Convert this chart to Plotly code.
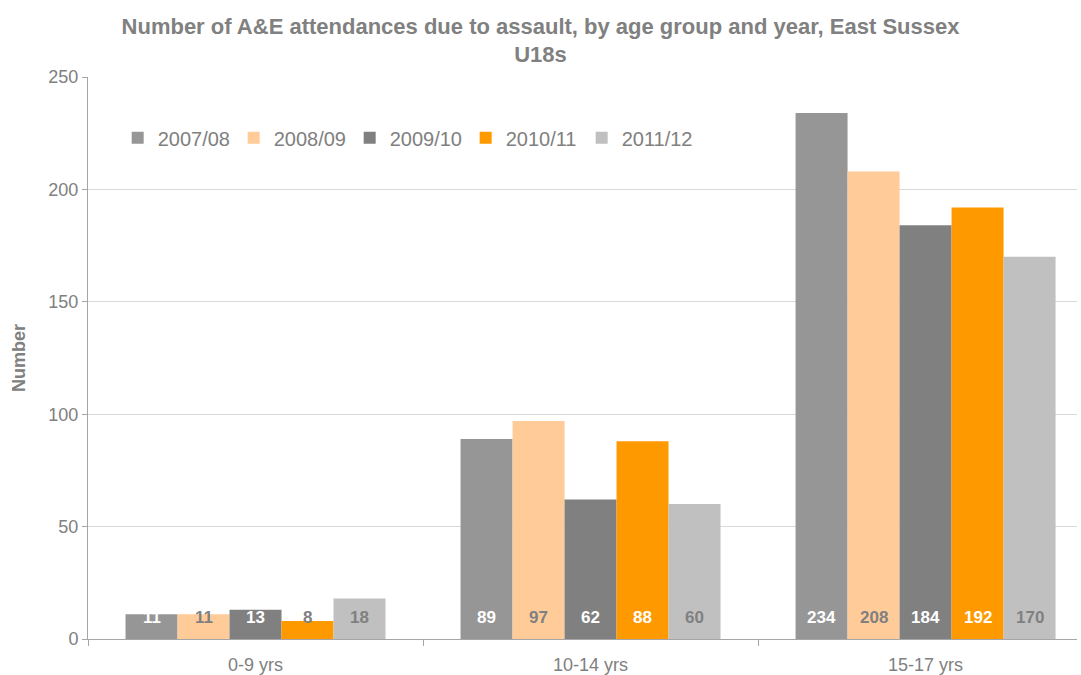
import plotly.graph_objects as go

# Age groups along the x axis
age_groups = ["0-9 yrs", "10-14 yrs", "15-17 yrs"]

# Financial years shown as grouped series
years = ["2007/08", "2008/09", "2009/10", "2010/11", "2011/12"]

# A&E attendances due to assault, per year, per age group
att_2007_08 = [11, 89, 234]
att_2008_09 = [11, 97, 208]
att_2009_10 = [13, 62, 184]
att_2010_11 = [8, 88, 192]
att_2011_12 = [18, 60, 170]

series_values = [att_2007_08, att_2008_09, att_2009_10, att_2010_11, att_2011_12]

bar_colors = ["#969696", "#FFCC99", "#808080", "#FF9900", "#C0C0C0"]
label_colors = [
    ["#FFFFFF", "#FFFFFF", "#FFFFFF"],
    ["#808080", "#808080", "#808080"],
    ["#FFFFFF", "#FFFFFF", "#FFFFFF"],
    ["#808080", "#FFFFFF", "#FFFFFF"],
    ["#808080", "#808080", "#808080"],
]

GRAY = "#808080"
FONT = "Liberation Sans, Arial, sans-serif"
BARGAP = 0.224

fig = go.Figure()
for name, vals, col in zip(years, series_values, bar_colors):
    fig.add_trace(go.Bar(
        name=name, x=age_groups, y=vals,
        marker=dict(color=col, line=dict(width=0)),
        hoverinfo="x+y+name",
    ))

# Value labels sit just above the base of each bar
n = len(years)
slot = (1 - BARGAP) / n
annotations = []
for i, vals in enumerate(series_values):
    for j, v in enumerate(vals):
        annotations.append(dict(
            x=j + (i - (n - 1) / 2) * slot, y=0, xref="x", yref="y",
            text=f"<b>{v}</b>", showarrow=False,
            yanchor="middle", yshift=22,
            font=dict(family=FONT, size=17, color=label_colors[i][j]),
        ))

fig.update_layout(
    width=1081, height=675,
    paper_bgcolor="white", plot_bgcolor="white",
    margin=dict(l=88, r=4, t=77, b=36),
    barmode="group", bargap=BARGAP, bargroupgap=0,
    font=dict(family=FONT, color=GRAY, size=18),
    title=dict(
        text="<b>Number of A&E attendances due to assault, by age group and year, East Sussex<br>U18s</b>",
        x=0.5, xref="container", xanchor="center",
        y=0.95, yref="container", yanchor="middle",
        font=dict(family=FONT, size=22, color=GRAY),
    ),
    legend=dict(
        orientation="h", x=0.03, y=0.892, xanchor="left", yanchor="middle",
        font=dict(family=FONT, size=20, color=GRAY),
        bgcolor="rgba(0,0,0,0)", itemsizing="constant",
        entrywidth=71, entrywidthmode="pixels",
    ),
    xaxis=dict(
        range=[-0.5, 2.452], automargin=False,
        showline=True, linecolor="#A6A6A6", linewidth=1,
        ticks="outside", tickson="boundaries", ticklen=6, tickcolor="#A6A6A6",
        ticklabelstandoff=9,
        showgrid=False, tickfont=dict(size=18, color=GRAY),
    ),
    yaxis=dict(
        range=[0, 250], dtick=50,
        showline=True, linecolor="#A6A6A6", linewidth=1,
        ticks="outside", ticklen=5, tickcolor="#A6A6A6",
        gridcolor="#D9D9D9", gridwidth=1, zeroline=False,
        tickfont=dict(size=18, color=GRAY),
        title=dict(text="<b>Number</b>", font=dict(size=18, color=GRAY), standoff=18),
    ),
    annotations=annotations,
    showlegend=True,
)

fig.write_html("out.html")
